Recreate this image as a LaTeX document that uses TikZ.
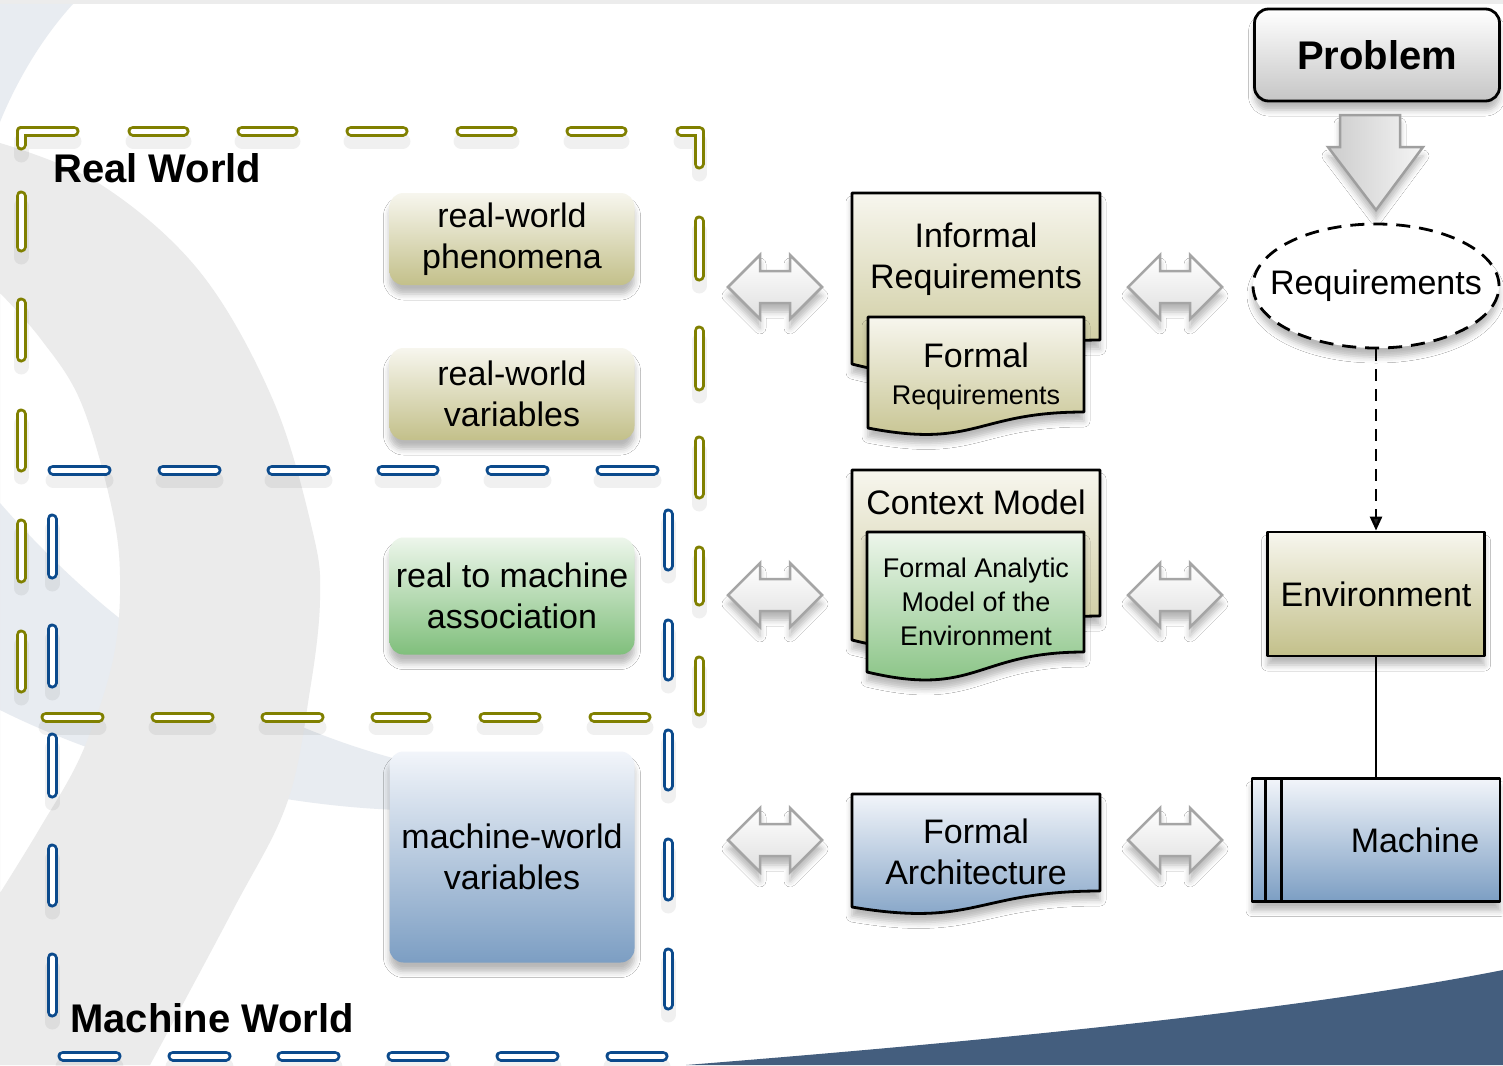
\documentclass[tikz,border=0pt]{standalone}
\usepackage{fontspec}
\setmainfont{Liberation Sans}
\usetikzlibrary{shapes.geometric,arrows.meta,shadows.blur}

\definecolor{olivedash}{HTML}{808000}
\definecolor{bluedash}{HTML}{0B4A8C}
\definecolor{bgblue}{HTML}{E8ECF1}
\definecolor{bggray}{HTML}{EBEBEB}
\definecolor{bgdark}{HTML}{445E7E}
\definecolor{olivetop}{HTML}{F7F6EE}
\definecolor{olivebot}{HTML}{C3C08A}
\definecolor{greentop}{HTML}{EDF6EB}
\definecolor{greenbot}{HTML}{80BF7C}
\definecolor{bluetop}{HTML}{F2F5FA}
\definecolor{bluebot}{HTML}{7C9EC3}
\definecolor{arrowgray}{HTML}{A5A5A5}

\newcommand\txtnorm{\fontsize{34}{41}\selectfont}
\newcommand\txtsmall{\fontsize{27}{34}\selectfont}
\newcommand\txtbold{\fontsize{40}{48}\selectfont\bfseries}

\tikzset{
  softshadow/.style={blur shadow={shadow xshift=0pt, shadow yshift=-9pt, shadow blur radius=6pt, shadow opacity=28}},
  dashshadow/.style={draw=black, opacity=.06, line width=15pt, line cap=round, line join=round, transform canvas={yshift=-10pt}},
  dashcap/.style={line width=3pt, double distance=5pt, line cap=round, line join=round},
  realframe/.style={dashcap, draw=olivedash, double=white},
  machframe/.style={dashcap, draw=bluedash, double=white},
  worldlbl/.style={anchor=base west, inner sep=0pt, font=\txtbold},
  lbl/.style={align=center, font=\txtnorm, inner sep=0pt},
  roundbox/.style={rounded corners=14pt, minimum width=245pt, inner sep=0pt, align=center, font=\txtnorm, softshadow},
  olivebox/.style={roundbox, top color=olivetop, bottom color=olivebot},
  greenbox/.style={roundbox, top color=greentop, bottom color=greenbot},
  bluebox/.style={roundbox, top color=bluetop, bottom color=bluebot},
  docline/.style={draw=black, line width=2.8pt, line join=round, softshadow},
  oliverect/.style={rectangle, docline, top color=olivetop, bottom color=olivebot, inner sep=0pt, font=\txtnorm},
  bluerect/.style={rectangle, docline, top color=bluetop, bottom color=bluebot, inner sep=0pt, font=\txtnorm},
  blockarrow/.style={draw=arrowgray, line width=2.5pt, top color=white, bottom color=gray!25, softshadow},
}

% dash of a frame with its shadow
\newcommand\seg[3]{\draw[dashshadow] #2 -- #3; \draw[#1] #2 -- #3;}
% grey double block arrow around a centre
\newcommand\dblarrow[2]{\draw[blockarrow] ({#1-47},#2) -- ({#1-15},{#2-32}) -- ({#1-15},{#2-16}) -- ({#1+15},{#2-16}) -- ({#1+15},{#2-32}) -- ({#1+47},#2) -- ({#1+15},{#2+32}) -- ({#1+15},{#2+16}) -- ({#1-15},{#2+16}) -- ({#1-15},{#2+32}) -- cycle;}

\begin{document}
\begin{tikzpicture}[x=1pt, y=-1pt]
  \useasboundingbox (0,0) rectangle (1503,1065);
  \fill[white] (0,0) rectangle (1503,1065);

  % background
  \fill[gray!15] (0,0) rectangle (1503,4);
  \fill[bgblue] (0,4) -- (73,4) .. controls (40,40) and (15,85) .. (0,122) -- cycle;
  \fill[bgblue] (0,503) .. controls (120,640) and (250,720) .. (400,760) -- (400,810) .. controls (250,805) and (100,760) .. (0,710) -- cycle;
  \fill[bggray, even odd rule] plot[smooth, tension=.6] coordinates {(0,143) (100,184) (200,272) (273,400) (313,533) (320,600) (310,690) (287,803) (233,910) (150,1065)} -- (0,1065) -- cycle
     plot[smooth, tension=.6] coordinates {(0,293) (40,338) (80,400) (110,500) (120,575) (113,660) (82,753) (40,828) (0,893)} -- cycle;
  \fill[bgdark] (686,1065) .. controls (1000,1040) and (1300,1010) .. (1503,970) -- (1503,1065) -- cycle;

  % Real World frame
  \seg{realframe}{(21,145) -- (21,131)}{(74,131)}
  \seg{realframe}{(681,131) -- (699,131)}{(699,164)}
  \foreach \a/\b in {133/184, 242/293, 351/403, 461/512, 571/622} {\seg{realframe}{(\a,131)}{(\b,131)}}
  \foreach \a/\b in {221/276, 331/386, 441/494, 551/601, 661/711} {\seg{realframe}{(699,\a)}{(699,\b)}}
  \foreach \a/\b in {46/99, 156/209, 266/319, 376/426, 484/536, 594/646} {\seg{realframe}{(\a,717)}{(\b,717)}}
  \foreach \a/\b in {196/247, 303/357, 414/467, 524/578, 635/688} {\seg{realframe}{(21,\a)}{(21,\b)}}

  % Machine World frame
  \foreach \a/\b in {53/106, 163/216, 272/325, 382/434, 491/544, 601/654} {\seg{machframe}{(\a,470)}{(\b,470)}}
  \foreach \a/\b in {519/574, 629/683, 738/793, 849/902, 958/1012} {\seg{machframe}{(52,\a)}{(52,\b)}}
  \foreach \a/\b in {63/116, 173/226, 282/335, 392/444, 501/554, 611/663} {\seg{machframe}{(\a,1056)}{(\b,1056)}}
  \foreach \a/\b in {514/566, 624/676, 734/786, 843/896, 953/1005} {\seg{machframe}{(668,\a)}{(668,\b)}}

  \node[worldlbl] (realworld) at (53,182) {Real World};
  \node[worldlbl] (machworld) at (70,1032) {Machine World};

  % left boxes
  \node[olivebox, minimum height=92pt] (phen) at (512,239) {real-world\\phenomena};
  \node[olivebox, minimum height=92pt] (rwvars) at (512,394) {real-world\\variables};
  \node[greenbox, minimum height=117pt] (assoc) at (512,596) {real to machine\\association};
  \node[bluebox, minimum height=211pt] (mwvars) at (512,857) {machine-world\\variables};

  % block arrows
  \dblarrow{775}{287}
  \dblarrow{775}{595}
  \dblarrow{775}{840}
  \dblarrow{1175}{287}
  \dblarrow{1175}{595}
  \dblarrow{1175}{840}

  % documents
  \draw[docline, top color=olivetop, bottom color=olivebot] (852,193) -- (1100,193) -- (1100,340) .. controls (976,340) and (976,396) .. (852,364) -- cycle;
  \node[lbl] (informal) at (976,259) {Informal\\Requirements};
  \draw[docline, top color=olivetop, bottom color=olivebot] (868,317) -- (1084,317) -- (1084,412) .. controls (976,412) and (976,449) .. (868,428) -- cycle;
  \node[lbl] (formalreq) at (976,376) {Formal\\[-4pt]{\txtsmall Requirements}};

  \draw[docline, top color=olivetop, bottom color=olivebot] (852,470) -- (1100,470) -- (1100,616) .. controls (976,616) and (976,671) .. (852,640) -- cycle;
  \node[lbl] (context) at (976,502) {Context Model};
  \draw[docline, top color=greentop, bottom color=greenbot] (867,532) -- (1084,532) -- (1084,652) .. controls (976,652) and (976,698) .. (867,672) -- cycle;
  \node[lbl, font=\txtsmall] (analytic) at (976,602) {Formal Analytic\\Model of the\\Environment};

  \draw[docline, top color=bluetop, bottom color=bluebot] (852,794) -- (1100,794) -- (1100,891) .. controls (976,891) and (976,928) .. (852,907) -- cycle;
  \node[lbl] (arch) at (976,852) {Formal\\Architecture};

  % right column
  \node[docline, rounded corners=14pt, minimum width=245pt, minimum height=92pt, inner sep=0pt, top color=white, bottom color=gray!45, font=\txtbold] (problem) at (1377,55) {Problem};
  \draw[draw=gray!75, line width=2.5pt, left color=gray!40, right color=gray!8, softshadow] (1340,115) -- (1400,115) -- (1400,147) -- (1423,147) -- (1376,210) -- (1328,147) -- (1340,147) -- cycle;
  \node[ellipse, draw=black, fill=white, line width=2.8pt, dash pattern=on 14pt off 9pt, minimum width=246pt, minimum height=124pt, inner xsep=-22pt, inner ysep=0pt, font=\txtnorm, softshadow] (req) at (1376,286) {Requirements};
  \node[oliverect, minimum width=217pt, minimum height=124pt] (env) at (1376,594) {Environment};
  \node[bluerect, minimum width=248pt, minimum height=123pt] (mach) at (1376,840) {\hspace*{78pt}Machine};
  \draw[line width=2.8pt] ([xshift=15pt]mach.north west) -- ([xshift=15pt]mach.south west);
  \draw[line width=2.8pt] ([xshift=31pt]mach.north west) -- ([xshift=31pt]mach.south west);

  \draw[line width=2.5pt, dash pattern=on 12pt off 8pt, -{Triangle[length=14pt, width=12pt]}] (req.south) -- (env.north);
  \draw[line width=2.8pt] (env.south) -- (mach.north);
\end{tikzpicture}
\end{document}
